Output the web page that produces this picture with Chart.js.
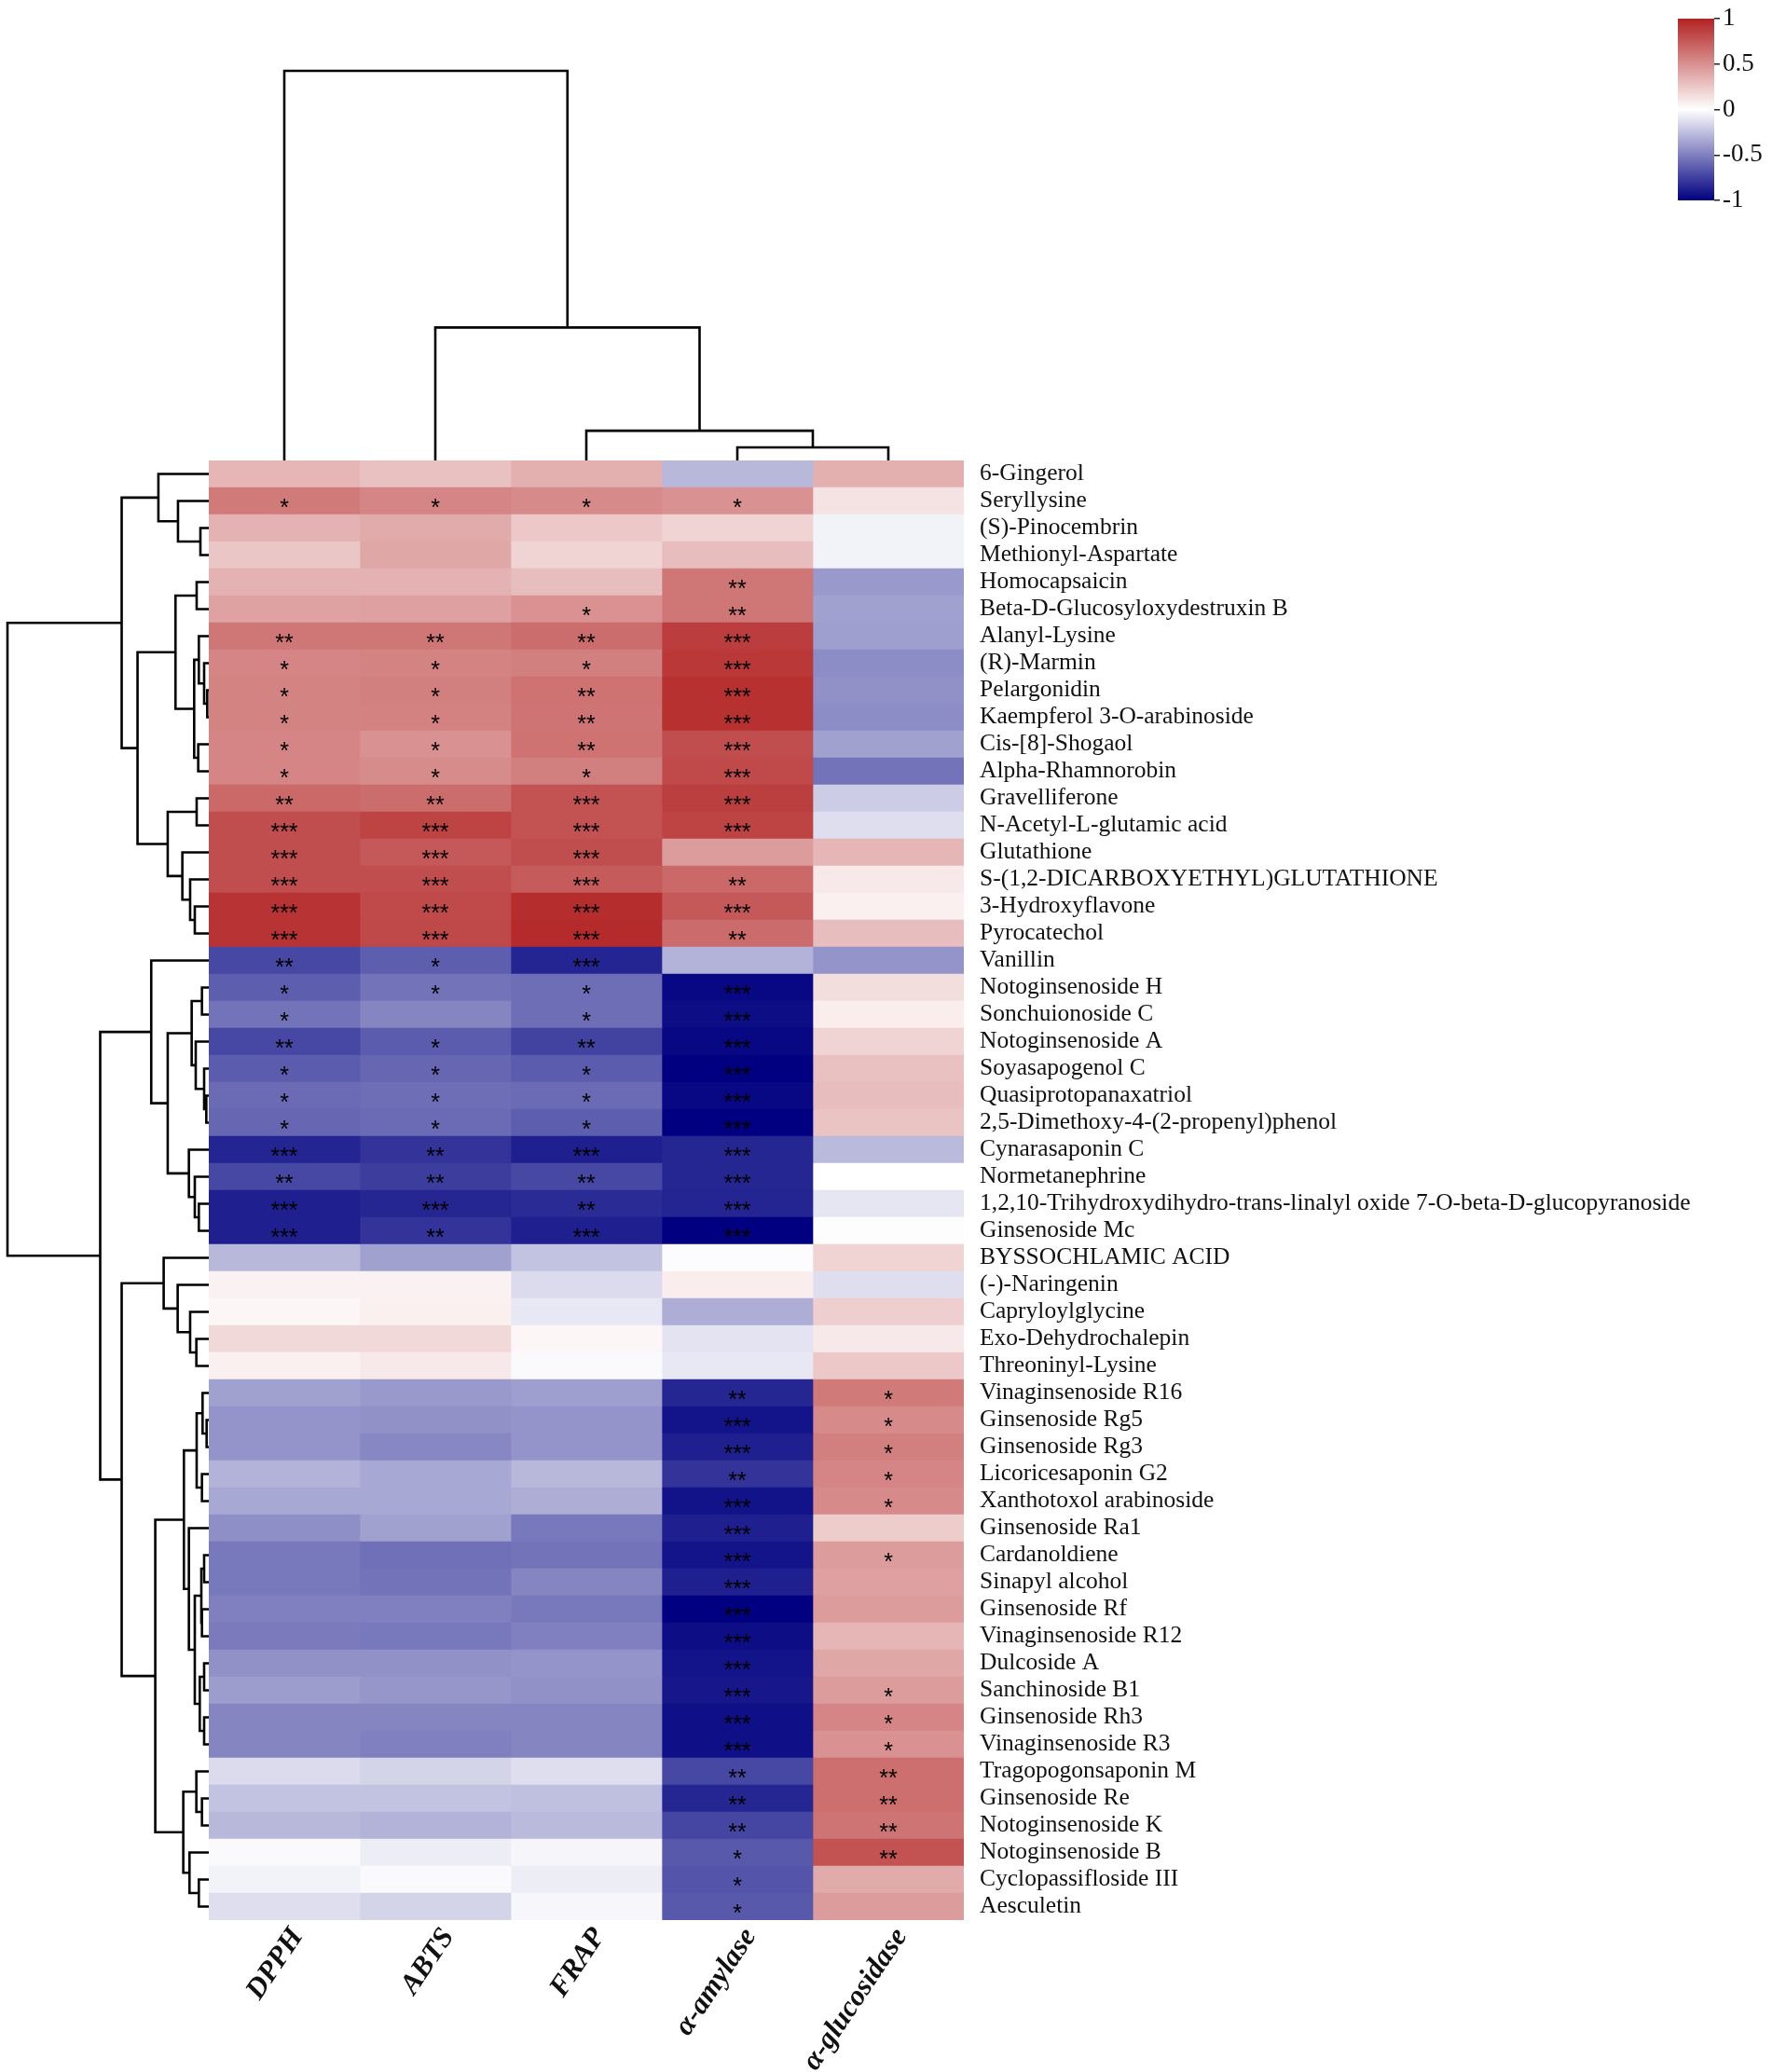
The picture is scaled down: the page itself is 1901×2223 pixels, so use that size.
<!DOCTYPE html>
<html>
<head>
<meta charset="utf-8">
<script src="https://cdn.jsdelivr.net/npm/chart.js@4.4.1/dist/chart.umd.min.js"></script>
<style>
  body { margin: 0; background: #fff; width: 1901px; height: 2223px; position: relative; overflow: hidden; }
  canvas { position: absolute; }
</style>
</head>
<body>
<canvas id="colTree" width="810" height="494" style="left:224px;top:0"></canvas>
<canvas id="rowTree" width="224" height="1566" style="left:0;top:494px"></canvas>
<canvas id="heat" width="1677" height="1729" style="left:224px;top:494px"></canvas>
<canvas id="legend" width="111" height="240" style="left:1790px;top:0"></canvas>
<script>
// 행(대사체) / 열(활성) 이름
const rows = [
  '6-Gingerol', 'Seryllysine', '(S)-Pinocembrin', 'Methionyl-Aspartate', 'Homocapsaicin',
  'Beta-D-Glucosyloxydestruxin B', 'Alanyl-Lysine', '(R)-Marmin', 'Pelargonidin', 'Kaempferol 3-O-arabinoside',
  'Cis-[8]-Shogaol', 'Alpha-Rhamnorobin', 'Gravelliferone', 'N-Acetyl-L-glutamic acid', 'Glutathione',
  'S-(1,2-DICARBOXYETHYL)GLUTATHIONE', '3-Hydroxyflavone', 'Pyrocatechol', 'Vanillin', 'Notoginsenoside H',
  'Sonchuionoside C', 'Notoginsenoside A', 'Soyasapogenol C', 'Quasiprotopanaxatriol', '2,5-Dimethoxy-4-(2-propenyl)phenol',
  'Cynarasaponin C', 'Normetanephrine', '1,2,10-Trihydroxydihydro-trans-linalyl oxide 7-O-beta-D-glucopyranoside', 'Ginsenoside Mc', 'BYSSOCHLAMIC ACID',
  '(-)-Naringenin', 'Capryloylglycine', 'Exo-Dehydrochalepin', 'Threoninyl-Lysine', 'Vinaginsenoside R16',
  'Ginsenoside Rg5', 'Ginsenoside Rg3', 'Licoricesaponin G2', 'Xanthotoxol arabinoside', 'Ginsenoside Ra1',
  'Cardanoldiene', 'Sinapyl alcohol', 'Ginsenoside Rf', 'Vinaginsenoside R12', 'Dulcoside A',
  'Sanchinoside B1', 'Ginsenoside Rh3', 'Vinaginsenoside R3', 'Tragopogonsaponin M', 'Ginsenoside Re',
  'Notoginsenoside K', 'Notoginsenoside B', 'Cyclopassifloside III', 'Aesculetin'
];
const cols = ['DPPH', 'ABTS', 'FRAP', 'α-amylase', 'α-glucosidase'];

// 상관계수 (열별)
const dpph = [0.33,0.60,0.35,0.26,0.35,0.42,0.62,0.55,0.56,0.56,0.55,0.55,0.68,0.80,0.80,0.80,0.92,0.92,
  -0.72,-0.63,-0.55,-0.72,-0.64,-0.58,-0.60,-0.86,-0.72,-0.88,-0.88,-0.28,0.06,0.04,0.17,0.07,
  -0.37,-0.42,-0.42,-0.30,-0.34,-0.44,-0.53,-0.53,-0.50,-0.52,-0.43,-0.39,-0.48,-0.48,-0.14,-0.24,-0.28,-0.02,-0.05,-0.13];
const abts = [0.28,0.55,0.38,0.40,0.35,0.43,0.62,0.56,0.58,0.57,0.50,0.52,0.66,0.85,0.75,0.80,0.82,0.83,
  -0.63,-0.55,-0.48,-0.64,-0.60,-0.57,-0.58,-0.80,-0.76,-0.85,-0.80,-0.37,0.06,0.07,0.17,0.10,
  -0.40,-0.43,-0.47,-0.34,-0.34,-0.37,-0.56,-0.55,-0.50,-0.53,-0.43,-0.41,-0.48,-0.50,-0.17,-0.24,-0.30,-0.07,-0.02,-0.17];
const frap = [0.36,0.53,0.25,0.20,0.30,0.50,0.66,0.58,0.64,0.63,0.64,0.58,0.78,0.78,0.80,0.74,0.95,0.96,
  -0.86,-0.57,-0.57,-0.74,-0.64,-0.58,-0.63,-0.88,-0.72,-0.83,-0.88,-0.24,-0.14,-0.09,0.04,-0.02,
  -0.38,-0.42,-0.42,-0.28,-0.32,-0.53,-0.55,-0.48,-0.53,-0.50,-0.42,-0.43,-0.48,-0.48,-0.13,-0.25,-0.27,-0.04,-0.07,-0.03];
const amylase = [-0.28,0.50,0.20,0.30,0.62,0.62,0.88,0.90,0.93,0.93,0.80,0.82,0.87,0.85,0.45,0.68,0.75,0.67,
  -0.30,-0.97,-0.95,-0.97,-1.00,-0.97,-1.00,-0.85,-0.85,-0.86,-1.00,-0.01,0.08,-0.32,-0.11,-0.09,
  -0.85,-0.92,-0.88,-0.80,-0.93,-0.88,-0.92,-0.88,-1.00,-0.95,-0.92,-0.91,-0.94,-0.94,-0.72,-0.85,-0.73,-0.65,-0.67,-0.65];
const glucosidase = [0.36,0.13,-0.05,-0.05,-0.40,-0.37,-0.38,-0.45,-0.43,-0.45,-0.37,-0.55,-0.20,-0.13,0.33,0.10,0.07,0.30,
  -0.42,0.15,0.08,0.20,0.28,0.30,0.27,-0.27,0.00,-0.10,0.01,0.20,-0.13,0.22,0.10,0.25,
  0.60,0.53,0.58,0.55,0.53,0.23,0.45,0.43,0.45,0.33,0.40,0.45,0.55,0.50,0.65,0.65,0.63,0.78,0.38,0.45];

// 유의성 별 개수 (0 = 없음)
const sigDpph = [0,1,0,0,0,0,2,1,1,1,1,1,2,3,3,3,3,3,2,1,1,2,1,1,1,3,2,3,3,0,
  0,0,0,0,0,0,0,0,0,0,0,0,0,0,0,0,0,0,0,0,0,0,0,0];
const sigAbts = [0,1,0,0,0,0,2,1,1,1,1,1,2,3,3,3,3,3,1,1,0,1,1,1,1,2,2,3,2,0,
  0,0,0,0,0,0,0,0,0,0,0,0,0,0,0,0,0,0,0,0,0,0,0,0];
const sigFrap = [0,1,0,0,0,1,2,1,2,2,2,1,3,3,3,3,3,3,3,1,1,2,1,1,1,3,2,2,3,0,
  0,0,0,0,0,0,0,0,0,0,0,0,0,0,0,0,0,0,0,0,0,0,0,0];
const sigAmylase = [0,1,0,0,2,2,3,3,3,3,3,3,3,3,0,2,3,2,0,3,3,3,3,3,3,3,3,3,3,0,
  0,0,0,0,2,3,3,2,3,3,3,3,3,3,3,3,3,3,2,2,2,1,1,1];
const sigGlucosidase = [0,0,0,0,0,0,0,0,0,0,0,0,0,0,0,0,0,0,0,0,0,0,0,0,0,0,0,0,0,0,
  0,0,0,0,1,1,1,1,1,0,1,0,0,0,0,1,1,1,2,2,2,2,0,0];

// 군집 병합 (hclust 방식: 음수 = 잎, 양수 = 이전 병합 번호, 마지막 = 높이)
const rowMerges = [
  [-3,-4,0.27],[-2,1,0.99],[-1,2,1.62],[-5,-6,0.39],[-9,-10,0.05],[-8,5,0.15],[-7,6,0.32],[-11,-12,0.34],
  [7,8,0.47],[4,9,1.07],[-13,-14,0.39],[-17,-18,0.45],[-16,12,0.60],[-15,13,0.85],[11,14,1.32],[10,15,2.29],
  [3,16,2.80],
  [-20,-21,0.22],[-24,-25,0.08],[-23,19,0.15],[-22,20,0.42],[18,21,0.55],[-28,-29,0.32],[-27,23,0.45],
  [-26,24,0.64],[22,25,1.32],[-19,26,1.85],
  [-33,-34,0.40],[-32,28,0.60],[-31,29,1.00],[-30,30,1.45],[-36,-37,0.07],[-35,32,0.20],[-38,-39,0.22],
  [33,34,0.39],[-41,-42,0.15],[-43,-44,0.22],[36,37,0.24],[-45,-46,0.15],[-47,-48,0.15],[39,40,0.29],
  [38,41,0.45],[-40,42,0.64],[35,43,0.80],[-50,-51,0.22],[-49,45,0.40],[-53,-54,0.32],[-52,47,0.62],
  [46,48,0.82],[44,49,1.72],[31,50,2.80],[27,51,3.49],[17,52,6.47]
];
const colMerges = [[-4,-5,0.14],[-3,1,0.32],[-2,2,1.43],[-1,3,4.19]];

const heatCols = [dpph, abts, frap, amylase, glucosidase];
const sigCols = [sigDpph, sigAbts, sigFrap, sigAmylase, sigGlucosidase];

Chart.defaults.font.family = '"Liberation Serif", "Times New Roman", serif';
Chart.defaults.color = '#111';

// navy - white - firebrick
function corrColor(v) {
  const t = Math.min(Math.abs(v), 1);
  const end = v >= 0 ? [178, 34, 34] : [0, 0, 128];
  const c = end.map(e => Math.round(255 + (e - 255) * t));
  return `rgb(${c[0]},${c[1]},${c[2]})`;
}

// 병합 목록 -> ㄷ자 선분
function treeSegments(merges) {
  const pos = [], height = [];
  const at = ref => ref < 0 ? { p: -ref - 1, h: 0 } : { p: pos[ref - 1], h: height[ref - 1] };
  return merges.map(([a, b, h], k) => {
    const A = at(a), B = at(b);
    pos[k] = (A.p + B.p) / 2;
    height[k] = h;
    return [[A.h, A.p], [h, A.p], [h, B.p], [B.h, B.p]];
  });
}

const lineStyle = { showLine: true, pointRadius: 0, borderColor: '#000', borderWidth: 2.6, clip: false, tension: 0 };
const quiet = { legend: { display: false }, tooltip: { enabled: false } };

// 왼쪽 덴드로그램
new Chart(document.getElementById('rowTree'), {
  type: 'scatter',
  data: { datasets: treeSegments(rowMerges).map(s => ({ ...lineStyle, data: s.map(([h, p]) => ({ x: h, y: p })) })) },
  options: {
    animation: false, responsive: false, plugins: quiet,
    scales: {
      x: { type: 'linear', reverse: true, min: 0, max: 6.71, display: false },
      y: { type: 'linear', reverse: true, min: -0.5, max: 53.5, display: false }
    }
  }
});

// 위쪽 덴드로그램
new Chart(document.getElementById('colTree'), {
  type: 'scatter',
  data: { datasets: treeSegments(colMerges).map(s => ({ ...lineStyle, data: s.map(([h, p]) => ({ x: p, y: h })) })) },
  options: {
    animation: false, responsive: false, plugins: quiet,
    scales: {
      x: { type: 'linear', min: -0.5, max: 4.5, display: false },
      y: { type: 'linear', min: 0, max: 4.952, display: false }
    }
  }
});

// 별표 그리기
const starPlugin = {
  id: 'stars',
  afterDatasetsDraw(chart) {
    const { ctx, scales: { x, y } } = chart;
    ctx.save();
    ctx.fillStyle = '#000';
    ctx.font = '25px "Liberation Sans"';
    ctx.textAlign = 'center';
    ctx.textBaseline = 'alphabetic';
    sigCols.forEach((sig, c) => sig.forEach((n, r) => {
      if (!n) return;
      ctx.fillText('*'.repeat(n), x.getPixelForValue(c + 0.5), y.getPixelForValue(r) + 15);
    }));
    ctx.restore();
  }
};

// 히트맵
new Chart(document.getElementById('heat'), {
  type: 'bar',
  data: {
    labels: rows,
    datasets: heatCols.map((vals, c) => ({
      label: cols[c],
      data: rows.map(() => [c, c + 1]),
      backgroundColor: vals.map(corrColor),
      borderWidth: 0,
      grouped: false,
      barPercentage: 1,
      categoryPercentage: 1
    }))
  },
  options: {
    indexAxis: 'y',
    animation: false,
    responsive: false,
    plugins: quiet,
    scales: {
      y: {
        position: 'right',
        grid: { display: false, drawTicks: false },
        border: { display: false },
        ticks: { autoSkip: false, padding: 17, color: '#111', font: { size: 25.5 } },
        afterFit: s => { s.width = 867; s.paddingTop = 0; s.paddingBottom = 0; }
      },
      x: {
        type: 'linear', min: 0, max: 5,
        grid: { display: false, drawTicks: false },
        border: { display: false },
        afterBuildTicks: s => { s.ticks = cols.map((_, i) => ({ value: i + 0.5 })); },
        ticks: {
          autoSkip: false, minRotation: 56, maxRotation: 56, padding: 2, labelOffset: 14, color: '#111',
          font: { size: 31, weight: 'bold', style: 'italic' },
          callback: (v, i) => cols[i]
        },
        afterFit: s => { s.height = 163; s.paddingLeft = 0; s.paddingRight = 0; }
      }
    }
  },
  plugins: [starPlugin]
});

// 색상 범례
new Chart(document.getElementById('legend'), {
  type: 'bar',
  data: {
    labels: [''],
    datasets: [{
      data: [[-1, 1]],
      borderWidth: 0,
      barPercentage: 1,
      categoryPercentage: 1,
      backgroundColor: ctx => {
        const chart = ctx.chart;
        if (!chart.chartArea) return null;
        const y = chart.scales.y;
        const g = chart.ctx.createLinearGradient(0, y.getPixelForValue(-1), 0, y.getPixelForValue(1));
        g.addColorStop(0, corrColor(-1));
        g.addColorStop(0.5, corrColor(0));
        g.addColorStop(1, corrColor(1));
        return g;
      }
    }]
  },
  options: {
    animation: false, responsive: false, plugins: quiet,
    layout: { padding: { left: 10, top: 20, bottom: 25, right: 0 } },
    scales: {
      x: { display: false },
      y: {
        position: 'right', min: -1, max: 1,
        grid: { display: true, drawOnChartArea: false, drawTicks: true, tickLength: 6, color: '#222', lineWidth: 1.5 },
        border: { display: false },
        ticks: { stepSize: 0.5, padding: 3, color: '#111', font: { size: 27 }, callback: v => String(v) },
        afterFit: s => { s.width = 62; }
      }
    }
  }
});
</script>
</body>
</html>
